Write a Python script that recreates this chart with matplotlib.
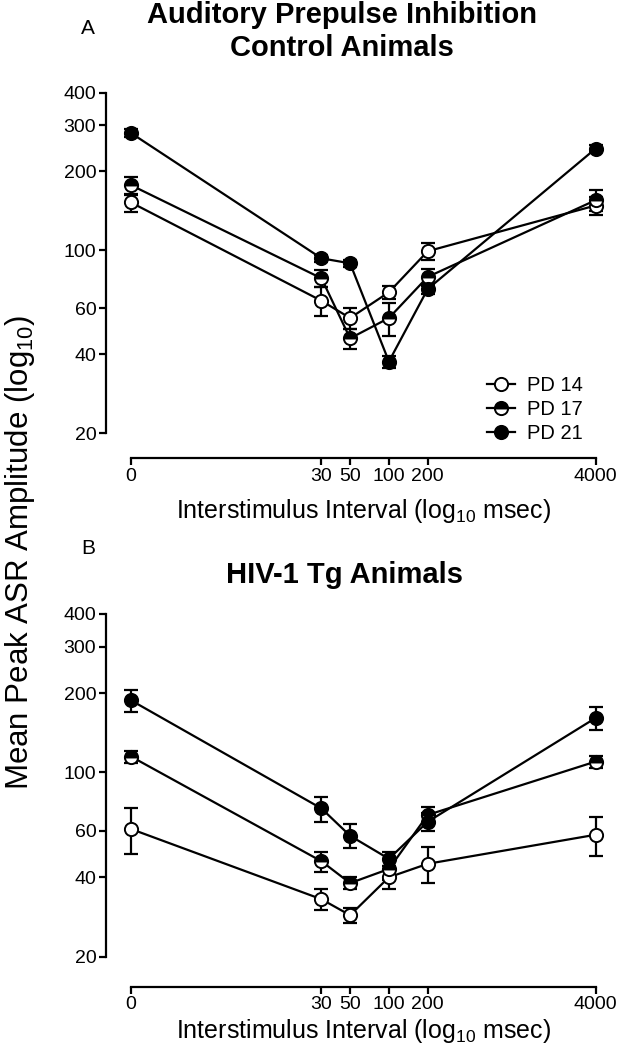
import matplotlib
matplotlib.use("Agg")
import matplotlib.pyplot as plt
import numpy as np

plt.rcParams['font.family'] = ['Liberation Sans', 'DejaVu Sans']
plt.rcParams['mathtext.fontset'] = 'custom'
plt.rcParams['mathtext.rm'] = 'Liberation Sans'

# interstimulus intervals (msec); 0 is drawn at log10 = 0
isi = [1, 30, 50, 100, 200, 4000]
isi_labels = ['0', '30', '50', '100', '200', '4000']
yticks = [20, 40, 60, 100, 200, 300, 400]

# control animals
ctrl_pd14 = [152, 64, 55, 69, 99, 148]
ctrl_pd14_sem = [12, 8, 5, 4, 7, 12]
ctrl_pd17 = [177, 78, 46, 55, 79, 155]
ctrl_pd17_sem = [14, 6, 4, 8, 6, 14]
ctrl_pd21 = [280, 93, 89, 37.5, 71, 244]
ctrl_pd21_sem = [10, 3, 3, 2, 3, 8]

# HIV-1 Tg animals
tg_pd14 = [61, 33, 28.7, 40, 45, 58]
tg_pd14_sem = [12, 3, 2, 4, 7, 10]
tg_pd17 = [115, 46, 38, 43, 69, 110]
tg_pd17_sem = [6, 4, 2, 4, 5, 6]
tg_pd21 = [188, 73, 57.5, 47, 65, 161]
tg_pd21_sem = [18, 8, 6, 3, 5, 16]

series_style = [
    dict(label='PD 14', markerfacecolor='white', fillstyle='full'),
    dict(label='PD 17', markerfacecolor='black', markerfacecoloralt='white', fillstyle='top'),
    dict(label='PD 21', markerfacecolor='black', fillstyle='full'),
]

W, H = 618, 1048
fig = plt.figure(figsize=(W / 100, H / 100), dpi=100)


def panel(top_px, bot_px, off_px, data):
    ax = fig.add_axes([131 / W, 1 - bot_px / H, (595.5 - 131) / W, (bot_px - top_px) / H])
    for (y, e), st in zip(data, series_style):
        ax.errorbar(isi, y, yerr=e, fmt='none', ecolor='black', elinewidth=1.6,
                    capsize=5, capthick=1.6, zorder=2, clip_on=False)
        ax.plot(isi, y, color='black', lw=1.6, marker='o', markersize=9.5,
                markeredgecolor='black', markeredgewidth=1.4, zorder=3,
                clip_on=False, **st)
    ax.set_xscale('log')
    ax.set_yscale('log')
    ax.set_xlim(1, 4000)
    ax.set_ylim(20, 400)
    ax.set_xticks(isi)
    ax.set_xticklabels(isi_labels)
    ax.set_yticks(yticks)
    ax.set_yticklabels([str(t) for t in yticks])
    ax.minorticks_off()
    ax.spines['top'].set_visible(False)
    ax.spines['right'].set_visible(False)
    ax.spines['left'].set_position(('outward', 18))
    ax.spines['bottom'].set_position(('outward', off_px * 0.72))
    ax.spines['left'].set_bounds(20, 400)
    ax.spines['bottom'].set_bounds(1, 4000)
    for s in ['left', 'bottom']:
        ax.spines[s].set_linewidth(1.6)
    ax.tick_params(axis='both', direction='out', length=5, width=1.6, labelsize=14, pad=2)
    ax.patch.set_visible(False)
    return ax


ax1 = panel(92.5, 433, 25, [(ctrl_pd14, ctrl_pd14_sem), (ctrl_pd17, ctrl_pd17_sem),
                            (ctrl_pd21, ctrl_pd21_sem)])
ax2 = panel(614, 956.5, 30, [(tg_pd14, tg_pd14_sem), (tg_pd17, tg_pd17_sem),
                             (tg_pd21, tg_pd21_sem)])

ax1.legend(loc='upper left', bbox_to_anchor=(469 / W, 1 - 358 / H),
           bbox_transform=fig.transFigure, frameon=False, fontsize=14.5,
           handlelength=1.4, handletextpad=0.6, labelspacing=0.25)

xlab = 'Interstimulus Interval (log$_{\\mathregular{10}}$ msec)'
fig.text(364 / W, 1 - 511 / H, xlab, ha='center', va='center', fontsize=18)
fig.text(364 / W, 1 - 1031 / H, xlab, ha='center', va='center', fontsize=18)

fig.text(20 / W, 1 - 552 / H, 'Mean Peak ASR Amplitude (log$_{\\mathregular{10}}$)',
         rotation=90, ha='center', va='center', fontsize=22.5)

fig.text(342 / W, 1 - 15 / H, 'Auditory Prepulse Inhibition', ha='center', va='center',
         fontsize=21, fontweight='bold')
fig.text(342 / W, 1 - 48 / H, 'Control Animals', ha='center', va='center',
         fontsize=21, fontweight='bold')
fig.text(345 / W, 1 - 575 / H, 'HIV-1 Tg Animals', ha='center', va='center',
         fontsize=21, fontweight='bold')
fig.text(88 / W, 1 - 28 / H, 'A', ha='center', va='center', fontsize=15)
fig.text(88 / W, 1 - 548 / H, 'B', ha='center', va='center', fontsize=15)

fig.savefig('out.png', dpi=100)
